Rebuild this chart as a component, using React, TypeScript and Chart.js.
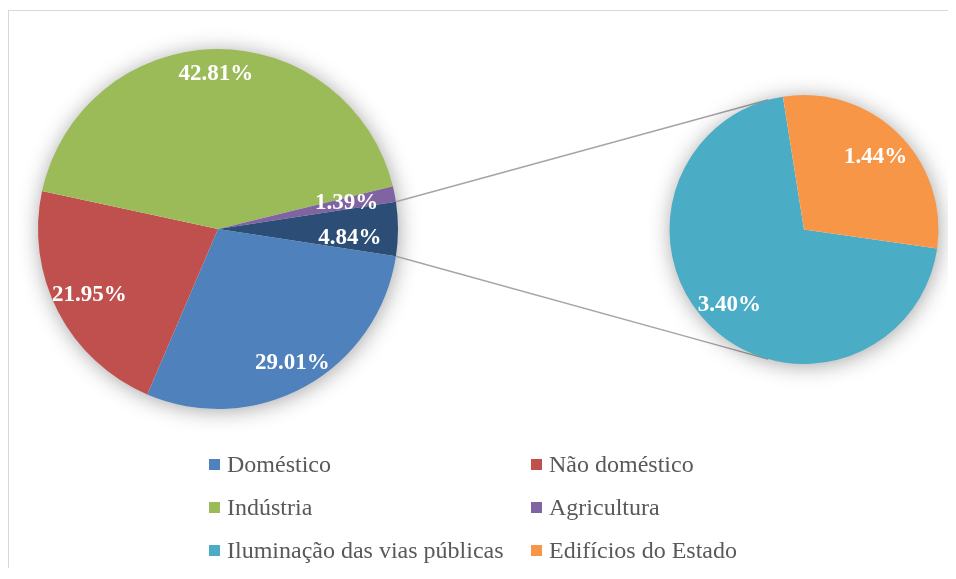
import React, { useEffect, useRef } from "react";
import { Chart, registerables } from "chart.js";

Chart.register(...registerables);

// ---- Data ----
const mainCategories = ["Doméstico", "Não doméstico", "Indústria", "Agricultura", "Outros"];
const mainValues = [29.01, 21.95, 42.81, 1.39, 4.84];
const mainColors = ["#4F81BD", "#C0504D", "#9BBB59", "#8064A2", "#2C4D75"];

const subCategories = ["Iluminação das vias públicas", "Edifícios do Estado"];
const subValues = [3.4, 1.44];
const subColors = ["#4BACC6", "#F79646"];

const legendLabels = [
  "Doméstico",
  "Não doméstico",
  "Indústria",
  "Agricultura",
  "Iluminação das vias públicas",
  "Edifícios do Estado",
];
const legendColors = ["#4F81BD", "#C0504D", "#9BBB59", "#8064A2", "#4BACC6", "#F79646"];

// ---- Layout / style (not data) ----
const W = 940;
const H = 560;
const mainLabelRadius = [0.85, 0.805, 0.86, 0.728, 0.733];
const mainLabelShiftY = [0, 0, 0, 0, 9];
const subLabelRadius = [0.79, 0.76];
const subLabelShiftY = [0, 0];
const LABEL_FONT = 'bold 23px "Liberation Serif", "Times New Roman", serif';

function makeLabelPlugin(radii: number[], shifts: number[]) {
  return {
    id: "pctLabels",
    afterDatasetsDraw(chart: any) {
      const meta = chart.getDatasetMeta(0);
      const values = chart.data.datasets[0].data as number[];
      const ctx = chart.ctx as CanvasRenderingContext2D;
      ctx.save();
      ctx.font = LABEL_FONT;
      ctx.fillStyle = "#ffffff";
      ctx.textAlign = "center";
      ctx.textBaseline = "middle";
      meta.data.forEach((arc: any, i: number) => {
        const { x, y, startAngle, endAngle, outerRadius } = arc;
        const mid = (startAngle + endAngle) / 2;
        const d = outerRadius * radii[i];
        ctx.fillText(
          values[i].toFixed(2) + "%",
          x + Math.cos(mid) * d,
          y + Math.sin(mid) * d + shifts[i]
        );
      });
      ctx.restore();
    },
  };
}

const shadowPlugin = {
  id: "pieShadow",
  beforeDatasetsDraw(chart: any) {
    const arc = chart.getDatasetMeta(0).data[0];
    if (!arc) return;
    const { x, y, outerRadius } = arc;
    const ctx = chart.ctx as CanvasRenderingContext2D;
    ctx.save();
    ctx.shadowColor = "rgba(0,0,0,0.38)";
    ctx.shadowBlur = 22;
    ctx.shadowOffsetX = 1;
    ctx.shadowOffsetY = 2;
    ctx.beginPath();
    ctx.arc(x, y, outerRadius - 1, 0, Math.PI * 2);
    ctx.fillStyle = "#ffffff";
    ctx.fill();
    ctx.restore();
  },
};

export default function App() {
  const mainRef = useRef<HTMLCanvasElement | null>(null);
  const subRef = useRef<HTMLCanvasElement | null>(null);

  useEffect(() => {
    document.documentElement.style.overflow = "hidden";
    const mainTotal = mainValues.reduce((a, b) => a + b, 0);
    const otherIndex = mainValues.length - 1;
    const mainRotation = 90 + (360 * mainValues[otherIndex]) / mainTotal / 2;

    const mainChart = new Chart(mainRef.current as HTMLCanvasElement, {
      type: "pie",
      data: {
        labels: mainCategories,
        datasets: [
          {
            data: mainValues,
            backgroundColor: mainColors,
            borderWidth: 0,
            hoverBorderWidth: 0,
            hoverOffset: 0,
            offset: 0,
          },
        ],
      },
      options: {
        responsive: false,
        animation: false,
        events: [],
        rotation: mainRotation,
        layout: { padding: { left: 30, top: 41, right: W - 390, bottom: H - 401 } },
        plugins: { legend: { display: false }, tooltip: { enabled: false } },
      },
      plugins: [shadowPlugin, makeLabelPlugin(mainLabelRadius, mainLabelShiftY)],
    } as any);

    const connectorPlugin = {
      id: "connectors",
      beforeDatasetsDraw(chart: any) {
        const other: any = mainChart.getDatasetMeta(0).data[otherIndex];
        const sub: any = chart.getDatasetMeta(0).data[0];
        if (!other || !sub) return;
        const ctx = chart.ctx as CanvasRenderingContext2D;
        const cx = sub.x;
        const cy = sub.y;
        const r = sub.outerRadius;
        const ends = [
          { a: other.startAngle, sign: -1 },
          { a: other.endAngle, sign: 1 },
        ];
        ctx.save();
        ctx.strokeStyle = "#A5A5A5";
        ctx.lineWidth = 1.5;
        ends.forEach(({ a, sign }) => {
          const px = other.x + Math.cos(a) * other.outerRadius;
          const py = other.y + Math.sin(a) * other.outerRadius;
          const dx = cx - px;
          const dy = cy - py;
          const d = Math.hypot(dx, dy);
          const base = Math.atan2(dy, dx);
          const alpha = Math.asin(r / d);
          const L = Math.sqrt(d * d - r * r);
          const dir = base + sign * alpha;
          ctx.beginPath();
          ctx.moveTo(px, py);
          ctx.lineTo(px + Math.cos(dir) * L, py + Math.sin(dir) * L);
          ctx.stroke();
        });
        ctx.restore();
      },
    };

    const subChart = new Chart(subRef.current as HTMLCanvasElement, {
      type: "pie",
      data: {
        labels: subCategories,
        datasets: [
          {
            data: subValues,
            backgroundColor: subColors,
            borderWidth: 0,
            hoverBorderWidth: 0,
            hoverOffset: 0,
            offset: 0,
          },
        ],
      },
      options: {
        responsive: false,
        animation: false,
        events: [],
        rotation: 98.1,
        layout: { padding: { left: 661.5, top: 87, right: W - 930.5, bottom: H - 356 } },
        plugins: { legend: { display: false }, tooltip: { enabled: false } },
      },
      plugins: [connectorPlugin, shadowPlugin, makeLabelPlugin(subLabelRadius, subLabelShiftY)],
    } as any);

    return () => {
      subChart.destroy();
      mainChart.destroy();
    };
  }, []);

  const colX = [201, 523];
  const rowY = [456, 499, 542];

  return (
    <div style={{ position: "relative", width: W, height: H }}>
      <div
        style={{
          position: "absolute",
          left: 0,
          top: 2,
          width: 980,
          height: 600,
          borderTop: "1px solid #d9d9d9",
          borderLeft: "1px solid #d9d9d9",
          boxSizing: "border-box",
        }}
      />
      <canvas
        ref={mainRef}
        width={W}
        height={H}
        style={{ position: "absolute", left: 0, top: 0, width: W, height: H }}
      />
      <canvas
        ref={subRef}
        width={W}
        height={H}
        style={{ position: "absolute", left: 0, top: 0, width: W, height: H }}
      />
      {legendLabels.map((label, i) => {
        const col = i % 2;
        const row = Math.floor(i / 2);
        return (
          <div
            key={label}
            style={{
              position: "absolute",
              left: colX[col],
              top: rowY[row] - 15,
              height: 30,
              display: "flex",
              alignItems: "center",
              whiteSpace: "nowrap",
              fontFamily: '"Liberation Serif", "Times New Roman", serif',
              fontSize: 24,
              color: "#595959",
            }}
          >
            <span
              style={{
                display: "inline-block",
                width: 11,
                height: 11,
                background: legendColors[i],
                marginRight: 7,
              }}
            />
            <span>{label}</span>
          </div>
        );
      })}
    </div>
  );
}
